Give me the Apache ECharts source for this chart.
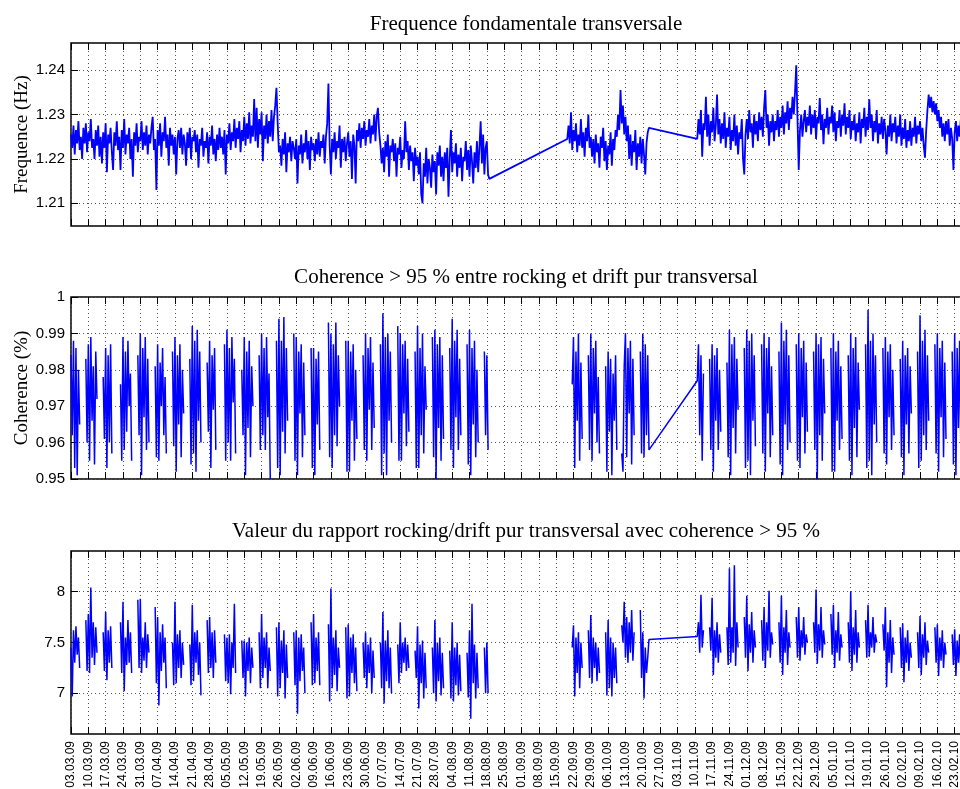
<!DOCTYPE html>
<html>
<head>
<meta charset="utf-8">
<script src="https://cdn.jsdelivr.net/npm/echarts@6/dist/echarts.min.js"></script>
<style>
  html, body { margin: 0; padding: 0; background: #fff; }
  #chart { width: 960px; height: 789px; }
</style>
</head>
<body>
<div id="chart"></div>
<script>
// day 0 = 03.03.09, samples every half day
const startDate = Date.UTC(2009, 2, 3);
const sampleStep = 0.5;
const dayMax = 364;
const dayTickStep = 7;

const titles = [
  "Frequence fondamentale transversale",
  "Coherence > 95 % entre rocking et drift pur transversal",
  "Valeur du rapport rocking/drift pur transversal avec coherence > 95 %",
];
const yNames = ["Frequence (Hz)", "Coherence (%)", ""];

const freqTicks = [1.21, 1.22, 1.23, 1.24];
const cohTicks = [0.95, 0.96, 0.97, 0.98, 0.99, 1];
const ratioTicks = [7, 7.5, 8];

// frequence : 3 blocs de mesures
const freqStarts = [0, 200.5, 253];
const freqBlock1 = [
  1.2255,1.2225,1.2275,1.2210,1.2265,1.2235,1.2285,1.2220,1.2250,1.2200,1.2270,1.2235,1.2280,1.2215,1.2260,1.2240,1.2290,1.2225,1.2245,1.2200,
  1.2265,1.2230,1.2275,1.2205,1.2250,1.2190,1.2260,1.2225,1.2280,1.2170,1.2255,1.2235,1.2270,1.2215,1.2175,1.2260,1.2230,1.2285,1.2220,1.2250,
  1.2175,1.2265,1.2225,1.2290,1.2210,1.2255,1.2235,1.2270,1.2200,1.2245,1.2160,1.2260,1.2230,1.2280,1.2215,1.2250,1.2240,1.2285,1.2220,1.2260,
  1.2230,1.2275,1.2210,1.2255,1.2235,1.2270,1.2295,1.2220,1.2245,1.2130,1.2265,1.2230,1.2280,1.2205,1.2260,1.2240,1.2295,1.2225,1.2255,1.2185,
  1.2270,1.2230,1.2255,1.2210,1.2250,1.2165,1.2245,1.2265,1.2225,1.2270,1.2210,1.2255,1.2235,1.2185,1.2260,1.2225,1.2270,1.2200,1.2250,1.2240,
  1.2265,1.2215,1.2255,1.2180,1.2245,1.2230,1.2270,1.2205,1.2240,1.2225,1.2260,1.2190,1.2250,1.2230,1.2275,1.2210,1.2245,1.2195,1.2255,1.2220,
  1.2270,1.2225,1.2250,1.2210,1.2265,1.2165,1.2255,1.2235,1.2280,1.2220,1.2260,1.2240,1.2290,1.2225,1.2270,1.2245,1.2285,1.2215,1.2265,1.2240,
  1.2295,1.2230,1.2280,1.2245,1.2305,1.2235,1.2275,1.2250,1.2335,1.2240,1.2315,1.2225,1.2290,1.2255,1.2305,1.2195,1.2275,1.2245,1.2300,1.2235,
  1.2285,1.2250,1.2310,1.2240,1.2295,1.2320,1.2360,1.2280,1.2215,1.2230,1.2185,1.2245,1.2210,1.2260,1.2170,1.2235,1.2215,1.2250,1.2195,1.2240,
  1.2225,1.2200,1.2245,1.2145,1.2230,1.2210,1.2255,1.2190,1.2235,1.2215,1.2265,1.2200,1.2240,1.2175,1.2250,1.2220,1.2235,1.2195,1.2245,1.2210,
  1.2260,1.2205,1.2240,1.2225,1.2255,1.2190,1.2250,1.2280,1.2370,1.2230,1.2165,1.2245,1.2215,1.2260,1.2200,1.2240,1.2225,1.2275,1.2180,1.2245,
  1.2215,1.2250,1.2195,1.2235,1.2260,1.2205,1.2240,1.2155,1.2255,1.2230,1.2145,1.2265,1.2240,1.2280,1.2225,1.2270,1.2245,1.2285,1.2230,1.2265,
  1.2250,1.2290,1.2235,1.2275,1.2255,1.2300,1.2240,1.2295,1.2315,1.2260,1.2230,1.2190,1.2225,1.2170,1.2240,1.2205,1.2255,1.2160,1.2230,1.2215,
  1.2245,1.2195,1.2235,1.2160,1.2225,1.2210,1.2250,1.2180,1.2220,1.2200,1.2285,1.2215,1.2240,1.2175,1.2230,1.2195,1.2215,1.2150,1.2225,1.2185,
  1.2205,1.2165,1.2215,1.2120,1.2100,1.2190,1.2160,1.2225,1.2145,1.2200,1.2180,1.2135,1.2210,1.2170,1.2195,1.2120,1.2215,1.2185,1.2230,1.2160,
  1.2205,1.2150,1.2215,1.2180,1.2225,1.2115,1.2200,1.2265,1.2170,1.2215,1.2190,1.2235,1.2160,1.2210,1.2180,1.2225,1.2150,1.2205,1.2195,1.2240,
  1.2175,1.2220,1.2160,1.2230,1.2195,1.2145,1.2215,1.2180,1.2240,1.2170,1.2225,1.2285,1.2190,1.2255,1.2165,1.2225,1.2240,1.2165,1.2155,
];
const freqBlock2 = [
  1.2245,1.2275,1.2235,1.2305,1.2220,1.2265,1.2240,1.2280,1.2215,1.2255,1.2230,1.2290,1.2225,1.2260,1.2205,1.2270,1.2240,1.2300,1.2225,1.2250,
  1.2205,1.2245,1.2190,1.2255,1.2215,1.2235,1.2180,1.2250,1.2225,1.2270,1.2195,1.2240,1.2175,1.2230,1.2210,1.2260,1.2185,1.2245,1.2220,1.2265,
  1.2250,1.2300,1.2265,1.2355,1.2280,1.2320,1.2255,1.2295,1.2240,1.2275,
  1.2200,1.2255,1.2185,1.2240,1.2215,1.2265,1.2175,1.2235,1.2205,1.2250,1.2190,1.2245,1.2210,1.2165,1.2235,1.2260,1.2270,
];
const freqBlock3 = [
  1.2245,1.2290,1.2255,1.2310,1.2205,1.2280,1.2265,1.2340,1.2250,1.2300,1.2230,1.2285,1.2260,1.2315,1.2240,1.2275,1.2345,1.2255,1.2290,1.2235,
  1.2280,1.2245,1.2305,1.2225,1.2270,1.2250,1.2295,1.2220,1.2265,1.2240,1.2300,1.2230,1.2275,1.2210,1.2260,1.2245,1.2290,1.2200,1.2165,1.2255,
  1.2290,1.2245,1.2310,1.2260,1.2280,1.2225,1.2300,1.2255,1.2285,1.2240,1.2305,1.2265,1.2295,1.2250,1.2315,1.2355,1.2270,1.2300,1.2230,1.2285,
  1.2260,1.2300,1.2240,1.2285,1.2265,1.2310,1.2250,1.2295,1.2270,1.2320,1.2255,1.2305,1.2280,1.2330,1.2265,1.2315,1.2290,1.2340,1.2300,1.2350,
  1.2411,1.2290,1.2175,1.2265,1.2300,1.2250,1.2285,1.2310,1.2260,1.2295,1.2275,1.2320,1.2255,1.2300,1.2270,1.2310,1.2245,1.2295,1.2280,1.2337,
  1.2265,1.2300,1.2233,1.2290,1.2270,1.2315,1.2255,1.2295,1.2280,1.2320,1.2260,1.2305,1.2240,1.2285,1.2270,1.2310,1.2250,1.2300,1.2275,1.2325,
  1.2255,1.2295,1.2270,1.2310,1.2245,1.2285,1.2265,1.2300,1.2240,1.2280,1.2260,1.2305,1.2235,1.2290,1.2270,1.2315,1.2250,1.2295,1.2265,1.2334,
  1.2270,1.2300,1.2240,1.2285,1.2260,1.2310,1.2235,1.2280,1.2255,1.2295,1.2245,1.2290,1.2265,1.2210,1.2275,1.2250,1.2300,1.2240,1.2280,1.2260,
  1.2295,1.2235,1.2275,1.2250,1.2300,1.2230,1.2270,1.2245,1.2290,1.2225,1.2265,1.2240,1.2285,1.2230,1.2270,1.2250,1.2295,1.2235,1.2275,1.2255,
  1.2285,1.2240,1.2270,1.2230,1.2203,1.2265,1.2310,1.2345,1.2315,1.2340,1.2305,1.2330,1.2300,1.2325,1.2285,1.2310,1.2270,1.2295,1.2250,1.2280,
  1.2240,1.2285,1.2255,1.2290,1.2230,1.2270,1.2245,1.2175,1.2260,1.2285,1.2240,1.2275,1.2250,1.2290,1.2235,1.2270,1.2255,1.2280,1.2245,
];

// coherence (null = sous 95 % ou pas de mesure)
const cohStarts = [0, 202.5, 253];
const cohBlock1 = [
  0.984,0.962,0.988,0.953,0.986,0.951,0.980,0.965,null,null,null,null,0.983,0.960,
  0.987,0.955,0.989,0.966,0.981,0.954,0.985,0.972,null,null,null,null,0.978,0.961,
  0.986,0.953,0.984,0.960,0.987,0.957,null,0.982,null,null,null,null,0.976,0.955,
  0.989,0.958,0.985,0.963,0.988,0.970,0.979,0.955,null,null,null,null,0.984,0.962,
  0.990,0.951,0.986,0.967,0.989,0.958,0.983,0.960,null,null,null,null,0.981,0.956,
  0.987,0.955,0.982,0.970,0.986,0.962,0.978,0.957,null,null,null,null,0.985,0.959,
  0.989,0.952,0.984,0.965,0.987,0.956,0.980,0.968,null,null,null,null,0.983,0.954,
  0.992,0.957,0.988,0.952,0.991,0.966,0.985,0.960,null,null,null,null,0.982,0.963,
  0.988,0.953,0.984,0.969,0.986,0.958,null,0.979,null,null,null,null,0.987,0.955,
  0.991,0.960,0.986,0.955,0.989,0.971,0.983,0.957,null,null,null,null,0.980,0.962,
  0.989,0.951,0.985,0.964,0.988,0.956,0.981,0.970,null,null,null,null,0.984,0.958,
  0.990,0.962,0.986,0.958,0.989,0.967,0.979,0.950,null,null,null,null,0.988,0.953,
  0.994,0.951,0.988,0.963,0.9945,0.957,0.986,0.966,null,null,null,null,0.990,0.955,
  0.989,0.951,0.985,0.968,0.987,0.956,0.982,0.962,null,null,null,null,0.986,0.953,
  0.986,0.951,0.983,0.965,0.985,0.958,null,0.977,null,null,null,null,0.993,0.956,
  0.990,0.953,0.987,0.962,0.993,0.959,0.984,0.970,null,null,null,null,0.988,0.952,
  0.988,0.952,0.985,0.966,0.987,0.955,0.980,0.961,null,null,null,null,0.984,0.958,
  0.990,0.955,0.986,0.969,0.989,0.958,0.982,0.964,null,null,null,null,0.987,0.951,
  0.9955,0.957,0.989,0.951,0.990,0.966,0.985,0.960,null,null,null,null,0.992,0.955,
  0.990,0.955,0.987,0.968,0.988,0.959,0.983,0.963,null,null,null,null,0.985,0.953,
  0.992,0.953,0.986,0.962,0.990,0.957,0.981,0.969,null,null,null,null,0.989,0.956,
  0.991,0.950,0.987,0.964,0.989,0.955,0.984,0.961,null,null,null,null,0.986,0.958,
  0.994,0.953,0.988,0.967,0.991,0.958,0.983,0.962,null,null,null,null,0.987,0.954,
  0.991,0.951,0.986,0.965,0.988,0.956,0.980,0.960,null,null,null,null,0.985,0.962,
  0.984,0.958,null,
];
const cohBlock2 = [
  0.976,
  0.989,0.953,0.985,0.966,0.990,0.955,0.982,0.961,null,null,null,null,0.984,0.958,
  0.990,0.955,0.986,0.968,0.988,0.960,0.978,0.957,null,null,null,null,0.981,0.952,
  0.985,0.963,0.983,0.951,0.979,0.966,0.984,0.958,null,null,null,0.957,0.952,0.981,
  0.990,0.956,0.986,0.968,0.988,0.954,0.983,0.962,null,null,null,null,0.985,0.957,
  0.990,0.956,0.987,0.962,0.984,0.958,
];
const cohBlock3 = [
  0.977,0.987,0.962,0.984,0.955,0.979,null,null,null,null,0.983,0.958,
  0.987,0.952,0.984,0.966,0.986,0.958,0.980,0.963,null,null,null,null,0.982,0.956,
  0.991,0.951,0.987,0.964,0.989,0.957,0.983,0.969,null,null,null,null,0.986,0.953,
  0.991,0.955,0.988,0.951,0.990,0.966,0.984,0.959,null,null,null,null,0.987,0.957,
  0.990,0.952,0.986,0.968,0.989,0.956,0.981,0.962,null,null,null,null,0.985,0.954,
  0.993,0.951,0.988,0.965,0.991,0.958,0.984,0.960,null,null,null,null,0.987,0.955,
  0.990,0.953,0.986,0.967,0.988,0.957,0.982,0.963,null,null,null,null,0.985,0.958,
  0.990,0.950,0.987,0.962,0.989,0.955,0.983,0.968,null,null,null,null,0.986,0.952,
  0.990,0.952,0.985,0.966,0.988,0.958,0.981,0.961,null,null,null,null,0.984,0.955,
  0.990,0.951,0.986,0.964,0.989,0.956,0.982,0.969,null,null,null,null,0.987,0.953,
  0.9965,0.955,0.988,0.951,0.990,0.965,0.984,0.960,null,null,null,null,0.986,0.957,
  0.989,0.954,0.985,0.967,0.987,0.958,0.980,0.962,null,null,null,null,0.983,0.956,
  0.988,0.951,0.984,0.965,0.986,0.957,0.981,0.968,null,null,null,null,0.985,0.953,
  0.995,0.955,0.988,0.962,0.991,0.958,0.984,0.966,null,null,null,null,0.987,0.957,
  0.990,0.952,0.986,0.967,0.988,0.956,0.982,0.961,null,null,null,null,0.985,0.954,
  0.990,0.951,0.986,0.964,0.988,0.957,0.983,0.962,null,null,null,
];

// rapport rocking/drift
const ratioStarts = [0, 202.5, 253];
const ratioBlock1 = [
  7.45,6.97,7.62,7.30,7.66,7.38,7.55,7.25,null,null,null,null,7.72,7.22,
  7.78,7.20,8.04,7.35,7.70,7.28,7.65,7.40,null,null,null,null,7.60,7.22,
  7.80,7.13,7.62,7.30,7.66,7.25,null,7.50,null,null,null,null,7.70,7.20,
  7.90,7.02,7.55,7.28,7.72,7.30,7.60,7.20,null,null,null,null,7.92,7.25,
  7.93,7.20,7.55,7.32,7.70,7.25,7.58,7.40,null,null,null,null,7.85,7.10,
  7.75,6.88,7.60,7.22,7.68,7.30,7.55,7.05,null,null,null,null,7.50,7.08,
  7.90,7.10,7.58,7.25,7.62,7.15,7.50,7.28,null,null,null,null,7.48,7.08,
  7.87,7.12,7.60,7.30,7.62,7.18,7.50,6.98,null,null,null,null,7.72,7.20,
  7.75,7.25,7.60,7.15,7.62,7.30,null,7.45,null,null,null,null,7.58,7.12,
  7.55,7.10,7.58,6.99,7.50,7.25,7.88,7.20,null,null,null,null,7.52,7.15,
  7.52,6.97,7.50,7.22,7.55,7.10,7.45,7.25,null,null,null,null,7.60,7.05,
  7.78,7.15,7.55,7.25,7.60,7.05,7.45,7.22,null,null,null,null,7.65,6.97,
  7.70,7.05,7.52,7.20,7.62,6.95,7.48,7.15,null,null,null,null,7.60,7.08,
  7.62,6.80,7.55,7.12,7.58,7.22,7.45,7.00,null,null,null,null,7.70,7.08,
  7.78,7.10,7.55,7.22,7.60,7.08,null,7.40,null,null,null,null,7.68,6.92,
  8.03,7.05,7.55,7.18,7.62,7.02,7.45,7.25,null,null,null,null,7.65,6.95,
  7.68,6.97,7.55,7.20,7.58,7.10,7.45,7.02,null,null,null,null,7.50,7.15,
  7.60,7.05,7.48,7.20,7.55,7.00,7.42,7.15,null,null,null,null,7.50,7.05,
  7.80,6.90,7.52,7.12,7.62,7.05,7.45,7.00,null,null,null,null,7.48,7.10,
  7.70,7.20,7.50,7.30,7.55,7.22,7.48,7.25,null,null,null,null,7.42,7.15,
  7.66,6.85,7.48,7.10,7.52,6.95,7.40,7.05,null,null,null,null,7.45,7.00,
  7.72,6.92,7.50,7.12,7.55,6.98,7.40,7.05,null,null,null,null,7.42,6.95,
  7.70,6.92,7.45,7.08,7.50,6.98,7.38,7.02,null,null,null,null,7.40,6.96,
  7.62,6.75,7.88,7.10,7.48,6.95,7.40,7.05,null,null,null,null,7.45,7.00,
  7.50,7.00,null,
];
const ratioBlock2 = [
  7.45,
  7.67,6.97,7.55,7.20,7.60,7.05,7.50,7.25,null,null,null,null,7.62,7.15,
  7.77,7.10,7.55,7.25,7.50,7.12,7.45,7.20,null,null,null,null,7.60,6.98,
  7.72,7.05,7.55,6.97,7.50,7.15,7.45,7.10,null,null,null,7.67,7.50,7.90,
  7.35,7.75,7.30,7.70,7.40,7.82,7.32,7.60,null,null,null,null,7.82,7.15,
  7.60,6.95,7.45,7.20,7.35,7.53,
];
const ratioBlock3 = [
  7.56,7.70,7.40,7.97,7.45,7.62,null,null,null,null,7.65,7.42,
  7.94,7.18,7.62,7.35,7.70,7.30,7.58,7.40,null,null,null,null,7.65,7.28,
  8.23,7.30,7.65,7.40,8.26,7.27,7.70,7.45,null,null,null,null,7.75,7.35,
  7.96,7.22,7.68,7.40,7.80,7.30,7.62,7.45,null,null,null,null,7.72,7.32,
  7.85,7.25,7.70,7.42,8.01,7.35,7.60,7.48,null,null,null,null,7.70,7.30,
  7.96,7.18,7.65,7.40,7.82,7.28,7.60,7.45,null,null,null,null,7.75,7.35,
  7.85,7.32,7.62,7.45,7.75,7.38,7.58,7.50,null,null,null,null,7.70,7.40,
  8.02,7.29,7.68,7.42,7.85,7.35,7.62,7.48,null,null,null,null,7.78,7.38,
  7.87,7.25,7.62,7.40,7.80,7.32,7.58,7.45,null,null,null,null,7.70,7.30,
  8.00,7.22,7.65,7.38,7.82,7.30,7.60,7.45,null,null,null,null,7.72,7.35,
  7.87,7.36,7.60,7.45,7.75,7.40,7.58,7.50,null,null,null,null,7.68,7.42,
  7.85,7.06,7.60,7.30,7.72,7.20,7.55,7.38,null,null,null,null,7.65,7.25,
  7.69,7.11,7.55,7.30,7.62,7.22,7.50,7.35,null,null,null,null,7.60,7.25,
  7.76,7.18,7.58,7.35,7.70,7.28,7.52,7.40,null,null,null,null,7.65,7.30,
  7.68,7.17,7.55,7.32,7.62,7.25,7.50,7.38,null,null,null,null,7.58,7.28,
  7.63,7.17,7.52,7.30,7.58,7.22,7.48,7.35,null,null,null,
];

const SERIF = "'Liberation Serif', 'Times New Roman', serif";
const SANS = "'Liberation Sans', Arial, sans-serif";
const BLUE = "#0000ff";

function toPoints(starts, blocks) {
  const pts = [];
  blocks.forEach((vals, b) => {
    vals.forEach((v, i) => pts.push([starts[b] + i * sampleStep, v]));
  });
  return pts;
}

function dayLabel(d) {
  const t = new Date(startDate + d * 86400000);
  const p = (n) => String(n).padStart(2, "0");
  return p(t.getUTCDate()) + "." + p(t.getUTCMonth() + 1) + "." + p(t.getUTCFullYear() % 100);
}

// the figure is cut on the right: plot area goes past the canvas
const grids = [
  { left: 71, top: 43, width: 901, height: 183 },
  { left: 71, top: 297, width: 901, height: 182 },
  { left: 71, top: 551, width: 901, height: 183 },
].map((g) => ({
  ...g,
  show: true,
  borderColor: "#000",
  borderWidth: 1.5,
  backgroundColor: "transparent",
  containLabel: false,
  outerBoundsMode: "none",
}));

const dotted = { color: "#555", width: 1, type: [1, 3] };

const xAxes = [];
[0, 1, 2].forEach((i) => {
  const base = { type: "value", gridIndex: i, min: 0, max: dayMax, interval: dayTickStep, axisLine: { show: false } };
  xAxes.push({
    ...base,
    position: "bottom",
    axisTick: { inside: true, length: 7, lineStyle: { color: "#000" } },
    splitLine: { show: true, lineStyle: dotted },
    axisLabel: i === 2
      ? { show: true, rotate: 90, fontSize: 12, fontFamily: SANS, color: "#000", margin: 7, formatter: dayLabel }
      : { show: false },
  });
  xAxes.push({
    ...base,
    position: "top",
    axisTick: { inside: true, length: 7, lineStyle: { color: "#000" } },
    splitLine: { show: false },
    axisLabel: { show: false },
  });
});

function yAxis(i, min, max, ticks) {
  return {
    type: "value",
    gridIndex: i,
    min: min,
    max: max,
    axisLine: { show: false },
    axisTick: { inside: true, length: 7, lineStyle: { color: "#000" }, customValues: ticks },
    axisLabel: { customValues: ticks, fontSize: 15, fontFamily: SANS, color: "#000", margin: 6 },
    splitLine: { show: true, lineStyle: dotted },
    name: yNames[i],
    nameLocation: "middle",
    nameGap: 39,
    nameMoveOverlap: false,
    nameTextStyle: { fontFamily: SERIF, fontSize: 19, color: "#000" },
  };
}

const chart = echarts.init(document.getElementById("chart"));
chart.setOption({
  animation: false,
  backgroundColor: "#fff",
  title: titles.map((t, i) => ({
    text: t,
    left: 521,
    top: [9, 262, 516][i],
    textAlign: "center",
    textStyle: { fontFamily: SERIF, fontSize: 21, fontWeight: "normal", color: "#000" },
  })),
  grid: grids,
  xAxis: xAxes,
  yAxis: [
    yAxis(0, 1.2049, 1.2461, freqTicks),
    yAxis(1, 0.95, 1, cohTicks),
    yAxis(2, 6.6, 8.4, ratioTicks),
  ],
  series: [
    { data: toPoints(freqStarts, [freqBlock1, freqBlock2, freqBlock3]), xAxisIndex: 0, yAxisIndex: 0, width: 1.8 },
    { data: toPoints(cohStarts, [cohBlock1, cohBlock2, cohBlock3]), xAxisIndex: 2, yAxisIndex: 1, width: 1.5 },
    { data: toPoints(ratioStarts, [ratioBlock1, ratioBlock2, ratioBlock3]), xAxisIndex: 4, yAxisIndex: 2, width: 1.5 },
  ].map(({ width, ...s }) => ({
    ...s,
    type: "line",
    showSymbol: false,
    connectNulls: false,
    lineStyle: { color: BLUE, width: width },
    itemStyle: { color: BLUE },
    emphasis: { disabled: true },
  })),
});
</script>
</body>
</html>
